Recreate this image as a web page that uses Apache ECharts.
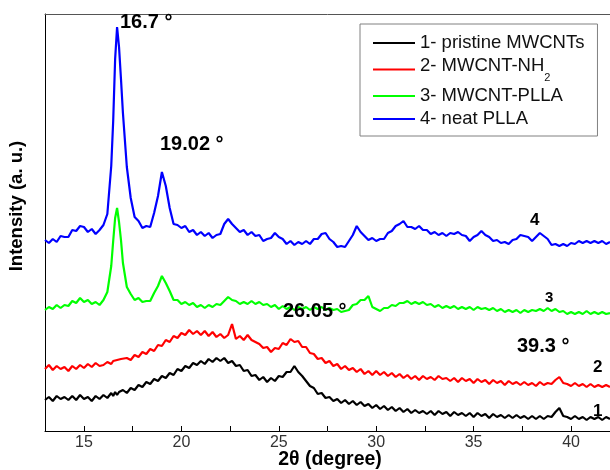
<!DOCTYPE html>
<html>
<head>
<meta charset="utf-8">
<script src="https://cdn.jsdelivr.net/npm/echarts@6/dist/echarts.min.js"></script>
<style>
	html, body { margin: 0; padding: 0; background: #fff; }
	#main { width: 610px; height: 470px; }
</style>
</head>
<body>
<div id="main"></div>
<script>
	// 2-theta positions (degree), shared by all four patterns
	var twoTheta = [
		13.0, 13.2, 13.4, 13.6, 13.8,
		14.0, 14.2, 14.4, 14.6, 14.8,
		15.0, 15.2, 15.4, 15.6, 15.8,
		16.0, 16.2, 16.4, 16.5, 16.6, 16.7, 16.8, 16.9,
		17.0, 17.2, 17.4, 17.6, 17.8,
		18.0, 18.2, 18.4, 18.6, 18.8,
		19.0, 19.2, 19.4, 19.6, 19.8,
		20.0, 20.2, 20.4, 20.6, 20.8,
		21.0, 21.2, 21.4, 21.6, 21.8,
		22.0, 22.2, 22.4, 22.6, 22.8,
		23.0, 23.2, 23.4, 23.6, 23.8,
		24.0, 24.2, 24.4, 24.6, 24.8,
		25.0, 25.2, 25.4, 25.6, 25.8,
		26.0, 26.2, 26.4, 26.6, 26.8,
		27.0, 27.2, 27.4, 27.6, 27.8,
		28.0, 28.2, 28.4, 28.6, 28.8,
		29.0, 29.2, 29.4, 29.6, 29.8,
		30.0, 30.2, 30.4, 30.6, 30.8,
		31.0, 31.2, 31.4, 31.6, 31.8,
		32.0, 32.2, 32.4, 32.6, 32.8,
		33.0, 33.2, 33.4, 33.6, 33.8,
		34.0, 34.2, 34.4, 34.6, 34.8,
		35.0, 35.2, 35.4, 35.6, 35.8,
		36.0, 36.2, 36.4, 36.6, 36.8,
		37.0, 37.2, 37.4, 37.6, 37.8,
		38.0, 38.2, 38.4, 38.6, 38.8,
		39.0, 39.2, 39.4, 39.6, 39.8,
		40.0, 40.2, 40.4, 40.6, 40.8,
		41.0, 41.2, 41.4, 41.6, 41.8,
		42.0
	];

	var seriesNames = ['1- pristine MWCNTs', '2- MWCNT-NH2', '3- MWCNT-PLLA', '4- neat PLLA'];
	var seriesColors = ['#000000', '#ff0000', '#00ff00', '#0000ff'];

	// intensities (a. u., stacked offsets)
	var pristine = [
		31, 34, 30, 35, 32,
		34, 31, 35, 31, 36,
		32, 34, 30, 35, 32,
		36, 33, 38, 35, 39, 36, 39, 37,
		41, 38, 43, 41, 46,
		44, 49, 47, 52, 50,
		55, 53, 58, 56, 62,
		60, 65, 63, 68, 66,
		70, 67, 72, 69, 73,
		70, 73, 68, 70, 65,
		66, 60, 61, 55, 56,
		51, 54, 49, 53, 50,
		55, 54, 59, 59, 65,
		59, 55, 50, 45, 43,
		37, 38, 33, 34, 30,
		32, 28, 31, 27, 30,
		26, 29, 25, 27, 23,
		26, 22, 25, 21, 24,
		20, 23, 19, 22, 18,
		21, 18, 20, 17, 20,
		16, 20, 17, 19, 15,
		19, 16, 18, 15, 18,
		14, 18, 15, 17, 13,
		17, 14, 16, 13, 16,
		13, 16, 13, 15, 12,
		15, 12, 15, 12, 15,
		14, 19, 23, 15, 14,
		12, 15, 12, 14, 11,
		14, 12, 14, 11, 14,
		12
	];
	var mwcntNH2 = [
		62, 66, 61, 65, 62,
		64, 60, 65, 62, 66,
		63, 67, 64, 68, 65,
		66, 69, 67, 70, 68, 71, 69, 72,
		70, 73, 71, 76, 74,
		79, 77, 82, 80, 86,
		85, 91, 89, 95, 93,
		98, 96, 101, 97, 100,
		96, 100, 95, 99, 94,
		97, 93, 96, 107, 92,
		95, 91, 96, 91, 89,
		87, 83, 84, 79, 83,
		82, 88, 86, 92, 89,
		90, 84, 84, 78, 77,
		72, 73, 68, 70, 65,
		67, 62, 65, 61, 63,
		59, 62, 57, 60, 56,
		60, 56, 59, 55, 58,
		54, 57, 53, 56, 52,
		55, 51, 55, 52, 54,
		51, 55, 52, 53, 50,
		53, 49, 53, 50, 52,
		48, 52, 49, 51, 47,
		51, 48, 50, 46, 50,
		47, 49, 46, 49, 46,
		48, 45, 49, 46, 48,
		47, 51, 54, 48, 47,
		45, 48, 45, 47, 44,
		47, 44, 46, 44, 46,
		44
	];
	var mwcntPLLA = [
		121, 124, 122, 126, 123,
		126, 125, 130, 128, 133,
		129, 131, 127, 129, 126,
		131, 139, 165, 190, 213, 223, 209, 191,
		168, 144, 137, 131, 133,
		129, 130, 130, 138, 145,
		155, 148, 140, 131, 131,
		127, 129, 126, 128, 124,
		126, 123, 126, 124, 127,
		126, 130, 134, 131, 130,
		127, 129, 127, 130, 127,
		129, 126, 127, 124, 126,
		122, 125, 122, 124, 121,
		124, 122, 124, 121, 124,
		122, 124, 121, 123, 121,
		122, 119, 120, 121, 126,
		127, 131, 131, 135, 124,
		122, 120, 123, 123, 126,
		125, 128, 128, 130, 127,
		129, 127, 129, 126, 127,
		124, 126, 123, 125, 123,
		125, 122, 124, 122, 124,
		121, 124, 122, 123, 121,
		123, 120, 122, 119, 121,
		119, 121, 118, 121, 119,
		121, 120, 122, 120, 123,
		120, 122, 119, 120, 117,
		119, 117, 119, 117, 120,
		117, 119, 117, 119, 117,
		118
	];
	var neatPLLA = [
		191, 188, 192, 189, 195,
		194, 194, 201, 200, 205,
		204, 199, 202, 197, 201,
		206, 217, 265, 310, 372, 404, 384, 352,
		318, 264, 233, 214, 210,
		203, 205, 204, 218, 235,
		259, 245, 223, 207, 206,
		203, 205, 199, 201, 196,
		199, 195, 198, 193, 196,
		197, 207, 212, 207, 203,
		199, 201, 196, 199, 195,
		196, 190, 192, 193, 198,
		194, 192, 187, 190, 186,
		189, 187, 190, 187, 192,
		192, 197, 198, 192, 189,
		184, 185, 184, 190, 196,
		205, 199, 195, 191, 193,
		190, 192, 192, 198, 200,
		205, 207, 210, 204, 204,
		202, 205, 201, 201, 197,
		199, 196, 198, 195, 198,
		197, 199, 196, 195, 190,
		194, 196, 200, 196, 194,
		190, 191, 188, 189, 187,
		191, 192, 196, 195, 194,
		190, 194, 198, 195, 192,
		186, 187, 185, 187, 185,
		188, 187, 190, 188, 190,
		188, 190, 188, 190, 187,
		189
	];

	var tickValues = [15, 17.5, 20, 22.5, 25, 27.5, 30, 32.5, 35, 37.5, 40];
	var labelValues = [15, 20, 25, 30, 35, 40];

	var font = 'Liberation Sans';

	function pairs(values) {
		return twoTheta.map(function(t, i) { return [t, values[i]]; });
	}

	var allValues = [pristine, mwcntNH2, mwcntPLLA, neatPLLA];

	var series = seriesNames.map(function(name, i) {
		return {
			name: name,
			type: 'line',
			data: pairs(allValues[i]),
			showSymbol: false,
			symbol: 'none',
			sampling: null,
			lineStyle: { color: seriesColors[i], width: 2.2 },
			itemStyle: { color: seriesColors[i] },
			z: 2 + i
		};
	});

	function txt(text, x, y, size, align) {
		return {
			type: 'text',
			x: x,
			y: y,
			z: 100,
			style: {
				text: text,
				fontFamily: font,
				fontSize: size,
				fontWeight: 'bold',
				fill: '#000',
				align: align || 'left',
				verticalAlign: 'middle'
			}
		};
	}

	var myChart = echarts.init(document.getElementById('main'));
	myChart.setOption({
		animation: false,
		backgroundColor: '#fff',
		grid: { left: 45, right: 0, top: 14, bottom: 39, outerBoundsMode: 'none', containLabel: false },
		legend: {
			data: seriesNames,
			orient: 'vertical',
			left: 360,
			top: 24,
			align: 'left',
			icon: 'rect',
			itemWidth: 42,
			itemHeight: 2,
			itemGap: 3,
			padding: [9, 13, 7, 13],
			backgroundColor: '#fff',
			borderColor: '#808080',
			borderWidth: 1,
			formatter: function(name) {
				if (name === '2- MWCNT-NH2') return '{a|2- MWCNT-NH}{b|2}';
				return name;
			},
			textStyle: {
				fontFamily: font,
				fontSize: 18.5,
				lineHeight: 20,
				color: '#111',
				rich: {
					a: { fontFamily: font, fontSize: 18.5, lineHeight: 20, color: '#111', verticalAlign: 'top' },
					b: { fontFamily: font, fontSize: 11, lineHeight: 27, color: '#111', verticalAlign: 'bottom' }
				}
			}
		},
		xAxis: [{
			type: 'value',
			min: 13,
			max: 42,
			axisLine: { lineStyle: { color: '#000', width: 1 } },
			axisTick: { inside: true, length: 5, customValues: tickValues, lineStyle: { color: '#000' } },
			axisLabel: { customValues: labelValues, fontFamily: font, fontSize: 16, color: '#333', margin: 4 },
			splitLine: { show: false }
		}, {
			type: 'value',
			position: 'top',
			min: 13,
			max: 42,
			axisLine: { show: true, lineStyle: { color: '#555', width: 1 } },
			axisTick: { show: false },
			axisLabel: { show: false },
			splitLine: { show: false }
		}],
		yAxis: {
			type: 'value',
			min: 0,
			max: 417,
			axisLine: { show: true, lineStyle: { color: '#000', width: 1 } },
			axisTick: { show: false },
			axisLabel: { show: false },
			splitLine: { show: false }
		},
		graphic: [
			{
				type: 'text',
				x: 17,
				y: 206,
				rotation: Math.PI / 2,
				z: 100,
				style: {
					text: 'Intensity (a. u.)',
					fontFamily: font,
					fontSize: 18.5,
					fontWeight: 'bold',
					fill: '#000',
					align: 'center',
					verticalAlign: 'middle'
				}
			},
			txt('2θ (degree)', 330, 460, 19.5, 'center'),
			txt('16.7 °', 120, 22, 20),
			txt('19.02 °', 160, 144, 20),
			txt('26.05 °', 283, 311, 20),
			txt('39.3 °', 517, 346, 20),
			txt('4', 530, 220, 17),
			txt('3', 545, 298, 15),
			txt('2', 593, 367, 17),
			txt('1', 593, 411, 17)
		],
		series: series
	});
</script>
</body>
</html>
